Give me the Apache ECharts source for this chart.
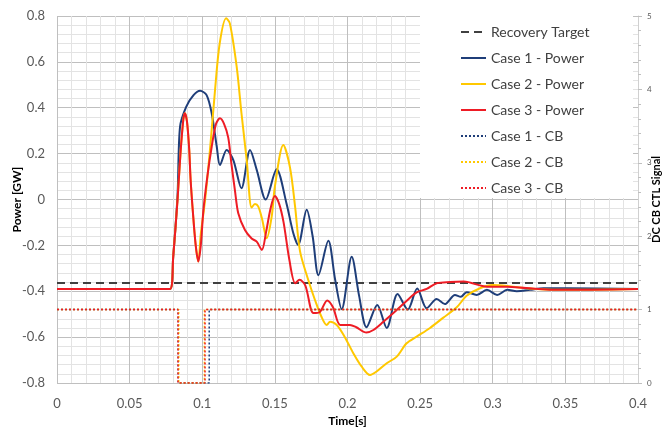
<!DOCTYPE html>
<html><head><meta charset="utf-8">
<script src="https://cdn.jsdelivr.net/npm/echarts@6/dist/echarts.min.js"></script>
<style>html,body{margin:0;padding:0;background:#fff}#c{width:664px;height:431px}</style>
</head><body><div id="c"></div>
<script>
// ---- data ----
const seriesNames = ['Recovery Target','Case 1 - Power','Case 2 - Power','Case 3 - Power','Case 1 - CB','Case 2 - CB','Case 3 - CB'];
const recoveryTarget = -0.364;
const timeRange = [0, 0.4];

const case1Time  = [0,0.0778,0.080,0.083,0.0847,0.089,0.094,0.0985,0.103,0.1065,0.110,0.1122,0.1168,0.1214,0.127,0.1329,0.1375,0.1437,0.1512,0.158,0.1627,0.166,0.1719,0.176,0.180,0.1868,0.1915,0.196,0.2029,0.208,0.2131,0.2205,0.227,0.2345,0.2415,0.248,0.2545,0.2614,0.267,0.274,0.278,0.282,0.289,0.296,0.303,0.310,0.3165,0.3256,0.335,0.351,0.4];
const case1Power = [-0.39,-0.39,-0.25,0.02,0.317,0.405,0.455,0.474,0.455,0.376,0.23,0.15,0.216,0.172,0.049,0.216,0.129,0.0,0.132,-0.017,-0.147,-0.198,-0.045,-0.16,-0.33,-0.18,-0.35,-0.478,-0.25,-0.42,-0.557,-0.46,-0.56,-0.412,-0.48,-0.388,-0.474,-0.434,-0.456,-0.416,-0.424,-0.404,-0.416,-0.394,-0.416,-0.394,-0.40,-0.394,-0.387,-0.387,-0.39];

const case2Time  = [0,0.0778,0.080,0.083,0.085,0.087,0.088,0.0895,0.091,0.092,0.0935,0.0955,0.0973,0.099,0.102,0.1055,0.1088,0.112,0.1164,0.119,0.1237,0.127,0.1306,0.134,0.1363,0.1385,0.141,0.1444,0.1478,0.150,0.1558,0.1604,0.1639,0.1673,0.173,0.1776,0.182,0.1857,0.188,0.1926,0.198,0.204,0.2098,0.2155,0.220,0.227,0.2339,0.2407,0.2476,0.2568,0.266,0.2752,0.282,0.2912,0.300,0.310,0.323,0.346,0.4];
const case2Power = [-0.39,-0.39,-0.25,0.0,0.2,0.35,0.376,0.34,0.22,0.085,-0.05,-0.2,-0.27,-0.15,0.0,0.23,0.477,0.68,0.79,0.768,0.579,0.376,0.172,-0.035,-0.02,-0.03,-0.08,-0.169,-0.075,0.056,0.238,0.14,-0.03,-0.225,-0.351,-0.438,-0.51,-0.547,-0.533,-0.547,-0.598,-0.67,-0.729,-0.765,-0.75,-0.714,-0.685,-0.627,-0.598,-0.56,-0.515,-0.47,-0.42,-0.387,-0.373,-0.377,-0.387,-0.394,-0.39];

const case3Time  = [0,0.0778,0.080,0.083,0.085,0.087,0.088,0.0895,0.091,0.092,0.0935,0.0955,0.0973,0.099,0.1008,0.1035,0.1065,0.1095,0.1122,0.115,0.1179,0.120,0.1225,0.1248,0.1294,0.134,0.1375,0.141,0.144,0.147,0.150,0.153,0.156,0.160,0.164,0.167,0.171,0.1765,0.181,0.186,0.190,0.195,0.2017,0.206,0.213,0.2178,0.2247,0.2339,0.241,0.2476,0.2545,0.2614,0.2706,0.280,0.296,0.310,0.323,0.346,0.4];
const case3Power = [-0.39,-0.39,-0.25,0.0,0.2,0.35,0.376,0.34,0.22,0.085,-0.05,-0.2,-0.27,-0.2,-0.046,0.1,0.23,0.33,0.354,0.33,0.27,0.16,0.04,-0.06,-0.133,-0.17,-0.184,-0.22,-0.14,-0.04,0.015,-0.02,-0.1,-0.264,-0.365,-0.35,-0.375,-0.495,-0.49,-0.44,-0.47,-0.547,-0.547,-0.557,-0.58,-0.569,-0.533,-0.482,-0.44,-0.405,-0.39,-0.365,-0.36,-0.358,-0.38,-0.38,-0.386,-0.394,-0.39];

// CB control signal: 1 = closed, 0 = open during [off, on]
const cbHigh = 1, cbLow = 0;
const cbOff = [0.0835, 0.0838, 0.0833];
const cbOn  = [0.1048, 0.1015, 0.1019];

const colors = ['#404040','#1f3e79','#ffc800','#ee1c25'];

// ---- build ----
const pair = (t, p) => t.map((x, i) => [x, p[i]]);
const cbData = k => [[timeRange[0],cbHigh],[cbOff[k],cbHigh],[cbOff[k],cbLow],[cbOn[k],cbLow],[cbOn[k],cbHigh],[timeRange[1],cbHigh]];

const font = 'Lato, "Open Sans", sans-serif';
const powerSeries = (name, color, data) => ({
  name, type:'line', data, symbol:'none', smooth:0.3,
  lineStyle:{color, width:2}, itemStyle:{color}, z:3
});
const cbSeries = (name, color, k) => ({
  name, type:'line', yAxisIndex:1, data: cbData(k), symbol:'none',
  lineStyle:{color, width:1.5, type:[2,2]}, itemStyle:{color}, z:3
});

const chart = echarts.init(document.getElementById('c'), null, {renderer:'canvas'});
chart.setOption({
  animation:false,
  backgroundColor:'#fff',
  textStyle:{fontFamily:font},
  grid:{left:57, right:26, top:16, bottom:48, containLabel:false, outerBoundsMode:'none'},
  graphic:{elements:[{type:'rect', shape:{x:420,y:16,width:213,height:182}, style:{fill:'#fff'}, z:3}]},
  legend:{
    left:420, top:16, orient:'vertical', padding:[9,10,3,40], itemGap:12,
    itemWidth:25, itemHeight:14, z:5,
    itemStyle:{opacity:0},
    textStyle:{fontSize:14, color:'#404040', fontFamily:font},
    data: seriesNames
  },
  xAxis:{
    type:'value', min:0, max:0.4, interval:0.05,
    name:'Time[s]', nameLocation:'middle', nameGap:32, nameMoveOverlap:false,
    nameTextStyle:{fontWeight:'bold', fontSize:12, color:'#000', fontFamily:font},
    axisLine:{show:false}, axisTick:{show:false},
    axisLabel:{fontSize:13, color:'#595959', margin:14, formatter: v => String(Number(v.toFixed(2)))},
    splitLine:{show:true, lineStyle:{color:'#bfbfbf', width:1}},
    minorTick:{show:false, splitNumber:5},
    minorSplitLine:{show:true, lineStyle:{color:'#e3e3e3', width:1}}
  },
  yAxis:[{
    type:'value', min:-0.8, max:0.8, interval:0.2,
    name:'Power [GW]', nameLocation:'middle', nameGap:34, nameRotate:90, nameMoveOverlap:false,
    nameTextStyle:{fontWeight:'bold', fontSize:12, color:'#000', fontFamily:font},
    axisLine:{show:false}, axisTick:{show:false},
    axisLabel:{fontSize:13, color:'#595959', margin:12, formatter: v => Math.abs(v) < 1e-9 ? '0' : v.toFixed(1)},
    splitLine:{show:true, lineStyle:{color:'#bfbfbf', width:1}},
    minorTick:{show:false, splitNumber:5},
    minorSplitLine:{show:true, lineStyle:{color:'#e3e3e3', width:1}}
  },{
    type:'value', min:0, max:5, interval:1, position:'right',
    name:'DC CB CTL Signal', nameLocation:'middle', nameGap:13, nameRotate:90, nameMoveOverlap:false,
    nameTextStyle:{fontWeight:'bold', fontSize:11, color:'#000', fontFamily:font},
    axisLine:{show:true, lineStyle:{color:'#d0d0d0'}},
    axisTick:{show:true, length:4, lineStyle:{color:'#bfbfbf'}},
    minorTick:{show:true, splitNumber:5, length:3, lineStyle:{color:'#bfbfbf'}},
    axisLabel:{fontSize:8, color:'#595959', margin:9},
    splitLine:{show:false}
  }],
  series:[
    {name:seriesNames[0], type:'line', data:[[timeRange[0],recoveryTarget],[timeRange[1],recoveryTarget]], symbol:'none',
     lineStyle:{color:colors[0], width:2, type:[8,5]}, itemStyle:{color:colors[0]}, z:3},
    powerSeries(seriesNames[1], colors[1], pair(case1Time, case1Power)),
    powerSeries(seriesNames[2], colors[2], pair(case2Time, case2Power)),
    powerSeries(seriesNames[3], colors[3], pair(case3Time, case3Power)),
    cbSeries(seriesNames[4], colors[1], 0),
    cbSeries(seriesNames[5], colors[2], 1),
    cbSeries(seriesNames[6], colors[3], 2)
  ]
});
</script></body></html>
